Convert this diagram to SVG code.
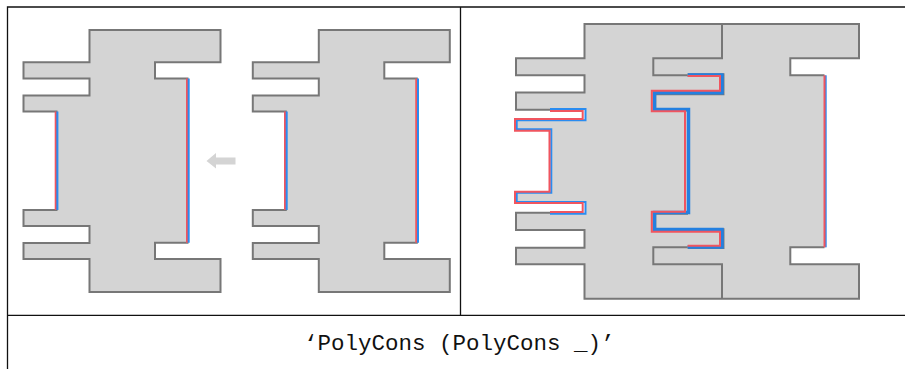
<svg xmlns="http://www.w3.org/2000/svg" width="905" height="369" viewBox="0 0 905 369">
<style>
.s{fill:#d4d4d4;stroke:none}
.o{fill:none;stroke:#777;stroke-width:2}
.r{fill:none;stroke:#f0555f;stroke-width:2}
.b{fill:none;stroke:#2a8cf0;stroke-width:2}
.t{fill:none;stroke:#111;stroke-width:1.300}
.l{font-family:"Liberation Mono",monospace;font-size:22.500px;fill:#111}
</style>
<defs>
<path id="p" d="M89.500 30H220.500V62.300H155V78.500H187.500V242.700H155V259H220.500V292H89.500V259H23.500V243H89.500V226H23.500V210H56.500V111.500H23.500V95.500H89.500V78.500H23.500V62.300H89.500Z"/>
<g id="e"><use href="#p" class="s"/><use href="#p" class="o"/>
<path class="r" d="M55.700 111.500V210M187 78.500V242.700"/><path class="b" d="M57.400 111.500V210M188.700 78.500V242.700"/></g>
</defs>
<g id="table">
<path class="t" d="M7.500 369V7H905M460.500 7V315.300M7.500 315.300H905"/>
</g>
<g id="shape-a"><use href="#e"/></g>
<g id="shape-b"><use href="#e" x="229.300"/></g>
<polygon id="arrow" points="206.500,161 216,153 216,157.500 235.500,157.500 235.500,164.500 216,164.500 216,168.500" fill="#d4d4d4"/>
<g id="composite">
<path class="s" d="M584.500 24H859V58.300H790.300V75.300H824.500V247.300H790.300V264.300H859V298.700H584.500V264.300H516V247.700H584.500V230H516V212.700H550V213.700H585.500V202H516V192.500H550.500V130H516V120H585.500V109.700H516V92.600H584.500V75.300H516V58.300H584.500Z"/>
<path class="o" d="M550 109.700H516V92.600H584.500V75.300H516V58.300H584.500V24H859V58.300H790.300V75.300H824.500M824.500 247.300H790.300V264.300H859V298.700H584.500V264.300H516V247.700H584.500V230H516V212.700H550"/>
<path class="o" d="M722 24V58.300H653.300V75.300H687.700M687.700 247.300H653.300V264.300H722V298.700"/>
<path class="o" d="M687.700 75H722.700V93.500H654.500V109.700H688M688 213H654.500V230H722.700V247.300H687.700" style="stroke-width:3.500"/>
<path class="b" d="M550 109H585.500V120.300H516.700V129.300H551.300V192.700H516.700V202H585.500V213.700H550"/>
<path class="r" d="M550 111H582.700V119H515V130.700H549.500V191.700H515V203H582.700V212H550"/>
<path class="b" d="M687.700 75H722V92.700H654.500V109.500H688.500V212.500H654.500V229.500H722V247H687.700" style="stroke-width:3.500;stroke:#2480e0"/>
<path class="r" d="M687.700 76H720V90.700H651.800V111.300H685V211.700H651.800V231.700H720V245.700H687.700"/>
<path class="b" d="M825.700 75.300V247.300"/>
<path class="r" d="M824.500 75.300V247.300"/>
</g>
<text id="caption" class="l" x="304" y="350">‘PolyCons (PolyCons _)’</text>
</svg>
